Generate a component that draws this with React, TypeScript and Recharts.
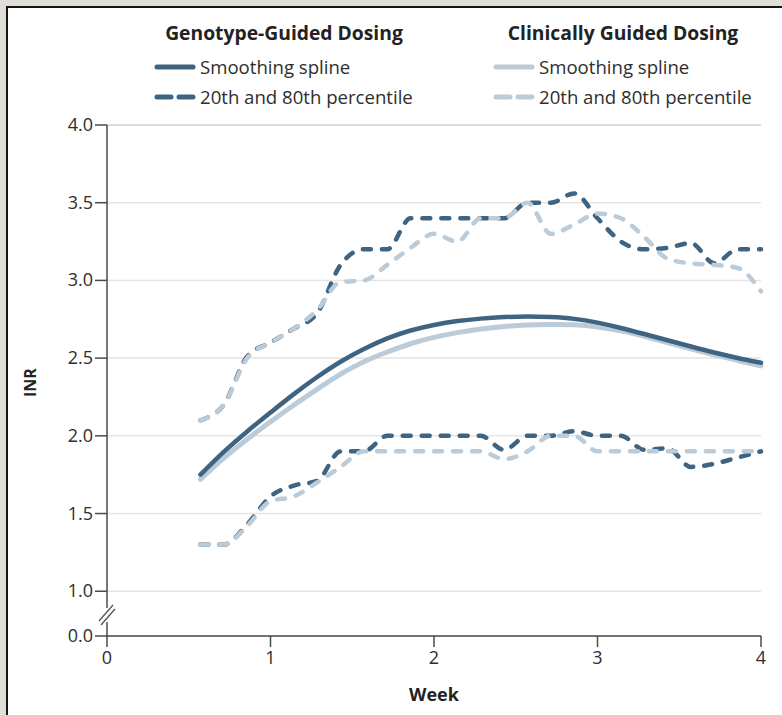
import React from 'react';
import { LineChart, Line, XAxis, YAxis, CartesianGrid, ReferenceLine, Legend } from 'recharts';

// Days since start of therapy (x axis shown in weeks)
const days = [4, 5, 6, 7, 8, 9, 10, 11, 12, 13, 14, 15, 16, 17, 18, 19, 20, 21, 22, 23, 24, 25, 26, 27, 28];

// Genotype-guided dosing
const genotypeSpline = [1.75, 1.9, 2.03, 2.15, 2.27, 2.38, 2.48, 2.56, 2.63, 2.68, 2.715, 2.74, 2.755, 2.765, 2.77, 2.765, 2.755, 2.73, 2.695, 2.655, 2.615, 2.575, 2.535, 2.5, 2.47];
const genotypeP80 = [2.1, 2.2, 2.51, 2.6, 2.69, 2.79, 3.1, 3.2, 3.2, 3.4, 3.4, 3.4, 3.4, 3.4, 3.5, 3.5, 3.56, 3.4, 3.25, 3.2, 3.21, 3.24, 3.11, 3.2, 3.2];
const genotypeP20 = [1.3, 1.3, 1.43, 1.61, 1.68, 1.71, 1.9, 1.9, 2.0, 2.0, 2.0, 2.0, 2.0, 1.91, 2.0, 2.0, 2.03, 2.0, 2.0, 1.91, 1.92, 1.8, 1.82, 1.86, 1.9];

// Clinically guided dosing
const clinicalSpline = [1.72, 1.86, 1.98, 2.09, 2.2, 2.3, 2.4, 2.48, 2.54, 2.595, 2.635, 2.665, 2.688, 2.704, 2.714, 2.718, 2.716, 2.703, 2.677, 2.64, 2.6, 2.56, 2.52, 2.485, 2.45];
const clinicalP80 = [2.1, 2.2, 2.5, 2.6, 2.69, 2.81, 2.99, 3.0, 3.1, 3.21, 3.3, 3.25, 3.4, 3.4, 3.5, 3.3, 3.36, 3.43, 3.4, 3.28, 3.14, 3.11, 3.1, 3.08, 2.93];
const clinicalP20 = [1.3, 1.3, 1.42, 1.58, 1.61, 1.7, 1.8, 1.9, 1.9, 1.9, 1.9, 1.9, 1.9, 1.85, 1.9, 2.0, 2.0, 1.9, 1.9, 1.9, 1.9, 1.9, 1.9, 1.9, 1.9];

const xTicks = [0, 1, 2, 3, 4];
// first tick sits below the axis break and is labelled 0.0
const yBreakValue = 0.712;
const yTicks = [yBreakValue, 1, 1.5, 2, 2.5, 3, 3.5, 4];
const yTickLabels = ['0.0', '1.0', '1.5', '2.0', '2.5', '3.0', '3.5', '4.0'];

const groupTitles = ['Genotype-Guided Dosing', 'Clinically Guided Dosing'];
const itemLabels = ['Smoothing spline', '20th and 80th percentile'];

const DARK = '#3f6482';
const LIGHT = '#bccbd8';
const FONT = '"Open Sans", "Liberation Sans", Arial, sans-serif';
const TEXT = '#2e2e2e';

const data = days.map((d, i) => ({
  week: d / 7,
  gs: genotypeSpline[i],
  gu: genotypeP80[i],
  gl: genotypeP20[i],
  cs: clinicalSpline[i],
  cu: clinicalP80[i],
  cl: clinicalP20[i],
}));

const Y_TICK_SIZE = 12;
const Y_TICK_MARGIN = 2;

const YTick = (props: any) => {
  const { x, y, payload } = props;
  const idx = yTicks.indexOf(payload.value);
  const label = idx >= 0 ? yTickLabels[idx] : String(payload.value);
  const ax = x + Y_TICK_SIZE + Y_TICK_MARGIN;
  return (
    <g>
      {payload.value === yBreakValue && (
        <g>
          <rect x={ax - 4} y={y - 28} width={8} height={14} fill="#fff" />
          <line x1={ax - 8} y1={y - 15} x2={ax + 6} y2={y - 31} stroke="#555" strokeWidth={1.4} />
          <line x1={ax - 6} y1={y - 11} x2={ax + 8} y2={y - 27} stroke="#555" strokeWidth={1.4} />
        </g>
      )}
      <text x={x} y={y} dy={6} textAnchor="end" fill={TEXT} fontSize={18} fontFamily={FONT}>
        {label}
      </text>
    </g>
  );
};

const XTick = (props: any) => {
  const { x, y, payload } = props;
  return (
    <text x={x} y={y} dy={15} textAnchor="middle" fill={TEXT} fontSize={18} fontFamily={FONT}>
      {payload.value}
    </text>
  );
};

const XLabel = (props: any) => {
  const vb = props.viewBox || {};
  return (
    <text x={vb.x + vb.width / 2} y={vb.y + 65} textAnchor="middle" fill="#222" fontSize={18} fontWeight={700} fontFamily={FONT}>
      Week
    </text>
  );
};

const YLabel = (props: any) => {
  const vb = props.viewBox || {};
  const cx = vb.x + 30;
  const cy = vb.y + vb.height / 2 + 2;
  return (
    <text x={cx} y={cy} transform={`rotate(-90 ${cx} ${cy})`} textAnchor="middle" dominantBaseline="central" fill="#222" fontSize={16} fontWeight={700} fontFamily={FONT}>
      INR
    </text>
  );
};

const LegendContent = () => {
  const cols = [
    { color: DARK, title: groupTitles[0], cx: 284, sx: 157, tx: 200 },
    { color: LIGHT, title: groupTitles[1], cx: 623, sx: 496, tx: 539 },
  ];
  return (
    <svg width={782} height={120} style={{ display: 'block' }}>
      {cols.map((c) => (
        <g key={c.title} fontFamily={FONT}>
          <text x={c.cx} y={40} textAnchor="middle" fontSize={19.3} fontWeight={700} fill="#222">
            {c.title}
          </text>
          <line x1={c.sx} y1={67} x2={c.sx + 36} y2={67} stroke={c.color} strokeWidth={5} strokeLinecap="round" />
          <text x={c.tx} y={74} fontSize={18.6} fill={TEXT}>
            {itemLabels[0]}
          </text>
          <line x1={c.sx} y1={97} x2={c.sx + 14} y2={97} stroke={c.color} strokeWidth={5} strokeLinecap="round" />
          <line x1={c.sx + 22} y1={97} x2={c.sx + 36} y2={97} stroke={c.color} strokeWidth={5} strokeLinecap="round" />
          <text x={c.tx} y={104} fontSize={18.6} fill={TEXT}>
            {itemLabels[1]}
          </text>
        </g>
      ))}
    </svg>
  );
};

export default function App() {
  return (
    <div style={{ position: 'fixed', left: 0, top: 0, width: 782, height: 715, background: '#e1ded8', overflow: 'hidden', fontFamily: FONT }}>
      <div style={{ position: 'absolute', left: 6, top: 6, width: 900, height: 900, background: '#fff', borderLeft: '2px solid #151515', borderTop: '2px solid #151515' }} />
      <div style={{ position: 'absolute', left: 0, top: 0 }}>
        <LineChart width={782} height={715} data={data} margin={{ top: 125, right: 21, bottom: 9, left: 0 }}>
          <CartesianGrid horizontal vertical={false} stroke="#e5e5e5" strokeWidth={1.5} />
          <ReferenceLine y={4} stroke="#cddbe9" strokeWidth={1.5} />
          <XAxis
            dataKey="week"
            type="number"
            domain={[0, 4]}
            ticks={xTicks}
            interval={0}
            height={70}
            tickSize={11}
            stroke="#4a4a4a"
            strokeWidth={1.5}
            tick={<XTick />}
            label={<XLabel />}
          />
          <YAxis
            type="number"
            domain={[yBreakValue, 4]}
            ticks={yTicks}
            interval={0}
            allowDataOverflow
            width={107}
            tickSize={Y_TICK_SIZE}
            tickMargin={Y_TICK_MARGIN}
            stroke="#4a4a4a"
            strokeWidth={1.5}
            tick={<YTick />}
            label={<YLabel />}
          />
          <Legend
            layout="vertical"
            align="center"
            verticalAlign="middle"
            content={<LegendContent />}
            wrapperStyle={{ top: 0, left: 0, width: 782, height: 120 }}
          />
          <Line type="monotone" dataKey="gu" stroke={DARK} strokeWidth={4.5} strokeDasharray="8 11" strokeLinecap="round" dot={false} activeDot={false} isAnimationActive={false} />
          <Line type="monotone" dataKey="gl" stroke={DARK} strokeWidth={4.5} strokeDasharray="8 11" strokeLinecap="round" dot={false} activeDot={false} isAnimationActive={false} />
          <Line type="monotone" dataKey="cu" stroke={LIGHT} strokeWidth={4.5} strokeDasharray="8 11" strokeLinecap="round" dot={false} activeDot={false} isAnimationActive={false} />
          <Line type="monotone" dataKey="cl" stroke={LIGHT} strokeWidth={4.5} strokeDasharray="8 11" strokeLinecap="round" dot={false} activeDot={false} isAnimationActive={false} />
          <Line type="basis" dataKey="cs" stroke={LIGHT} strokeWidth={5} strokeLinecap="round" dot={false} activeDot={false} isAnimationActive={false} />
          <Line type="basis" dataKey="gs" stroke={DARK} strokeWidth={4.5} strokeLinecap="round" dot={false} activeDot={false} isAnimationActive={false} />
        </LineChart>
      </div>
    </div>
  );
}
